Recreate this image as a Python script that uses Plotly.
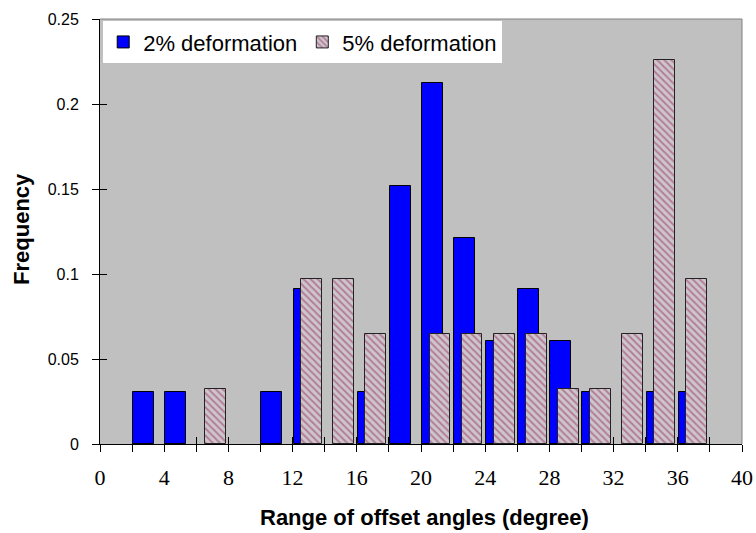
import plotly.graph_objects as go

# category bins (degrees): each bin is 2 degrees wide, centres below
bin_centers = [1, 3, 5, 7, 9, 11, 13, 15, 17, 19, 21, 23, 25, 27, 29, 31, 33, 35, 37, 39]
freq_2pct = [0, 0.0303, 0.0303, 0, 0, 0.0303, 0.0909, 0, 0.0303, 0.1515,
             0.2121, 0.1212, 0.0606, 0.0909, 0.0606, 0.0303, 0, 0.0303, 0.0303, 0]
freq_5pct = [0, 0, 0, 0.0323, 0, 0, 0.0968, 0.0968, 0.0645, 0,
             0.0645, 0.0645, 0.0645, 0.0645, 0.0323, 0.0323, 0.0645, 0.2258, 0.0968, 0]
x_tick_labels = ["0", "4", "8", "12", "16", "20", "24", "28", "32", "36", "40"]
y_tick_vals = [0, 0.05, 0.1, 0.15, 0.2, 0.25]
y_tick_text = ["0", "0.05", "0.1", "0.15", "0.2", "0.25"]

def nz(v):
    return [x if x else None for x in v]

fig = go.Figure()
fig.add_trace(go.Bar(
    x=bin_centers, y=nz(freq_2pct), name="2% deformation",
    width=1.31, offset=-0.94,
    marker=dict(color="#0000ff", line=dict(color="black", width=1)),
))
fig.add_trace(go.Bar(
    x=bin_centers, y=nz(freq_5pct), name="5% deformation",
    width=1.29, offset=-0.46,
    marker=dict(color="#993366", line=dict(color="#222222", width=1),
                pattern=dict(shape="\\", fgcolor="#993366", bgcolor="#cdc6cb",
                             size=5, solidity=0.4)),
))
# invisible trace to carry the overlay axes (inside tick marks)
fig.add_trace(go.Scatter(x=[0, 40], y=[0, 0], xaxis="x2", yaxis="y2",
                         mode="markers", marker=dict(opacity=0),
                         showlegend=False, hoverinfo="skip"))

edge_vals = list(range(0, 41, 2))
edge_text = [x_tick_labels[i // 2] if i % 2 == 0 else "" for i in range(len(edge_vals))]

fig.update_layout(
    width=756, height=533,
    margin=dict(l=100, r=14, t=19, b=89, autoexpand=False),
    paper_bgcolor="white", plot_bgcolor="#c0c0c0",
    barmode="overlay", bargap=0,
    font=dict(family="Arial, Liberation Sans", color="black"),
    showlegend=True,
    legend=dict(orientation="h", x=0.005, y=0.995, xanchor="left", yanchor="top",
                bgcolor="white", font=dict(size=22, family="Arial, Liberation Sans"),
                traceorder="normal", itemwidth=30, tracegroupgap=0),
    xaxis=dict(range=[0, 40], tickmode="array", tickvals=edge_vals, ticktext=edge_text,
               ticks="outside", ticklen=7, tickcolor="black", showgrid=False,
               showline=True, linecolor="black", linewidth=1, zeroline=False,
               tickfont=dict(family="Times New Roman, Liberation Serif", size=22),
               ticklabelstandoff=7, automargin=False),
    xaxis2=dict(range=[0, 40], overlaying="x", tickmode="array", tickvals=edge_vals,
                ticktext=[""] * len(edge_vals), ticks="inside", ticklen=7,
                tickcolor="black", showgrid=False, showline=False, zeroline=False,
                side="bottom", anchor="y", automargin=False),
    yaxis=dict(range=[0, 0.25], tickmode="array", tickvals=y_tick_vals, ticktext=y_tick_text,
               ticks="outside", ticklen=7, tickcolor="black", showgrid=False,
               showline=True, linecolor="black", linewidth=1, zeroline=False,
               tickfont=dict(size=16), ticklabelstandoff=10, automargin=False),
    yaxis2=dict(range=[0, 0.25], overlaying="y", tickmode="array", tickvals=y_tick_vals,
                ticktext=[""] * len(y_tick_vals), ticks="inside", ticklen=7,
                tickcolor="black", showgrid=False, showline=False, zeroline=False,
                side="left", anchor="x", automargin=False),
    shapes=[
        dict(type="line", xref="paper", yref="paper", x0=0, x1=1, y0=1, y1=1,
             line=dict(color="#808080", width=1)),
        dict(type="line", xref="paper", yref="paper", x0=1, x1=1, y0=0, y1=1,
             line=dict(color="#808080", width=1)),
    ],
    annotations=[
        dict(text="<b>Range of offset angles (degree)</b>", xref="paper", yref="paper",
             x=0.506, y=-0.174, xanchor="center", yanchor="middle", showarrow=False,
             font=dict(size=22)),
        dict(text="<b>Frequency</b>", xref="paper", yref="paper",
             x=-0.1215, y=0.506, xanchor="center", yanchor="middle", showarrow=False,
             textangle=-90, font=dict(size=22)),
    ],
)

fig.write_html("out.html", config={"displayModeBar": False},
               post_script="document.body.style.margin='0';document.body.style.padding='0';")
